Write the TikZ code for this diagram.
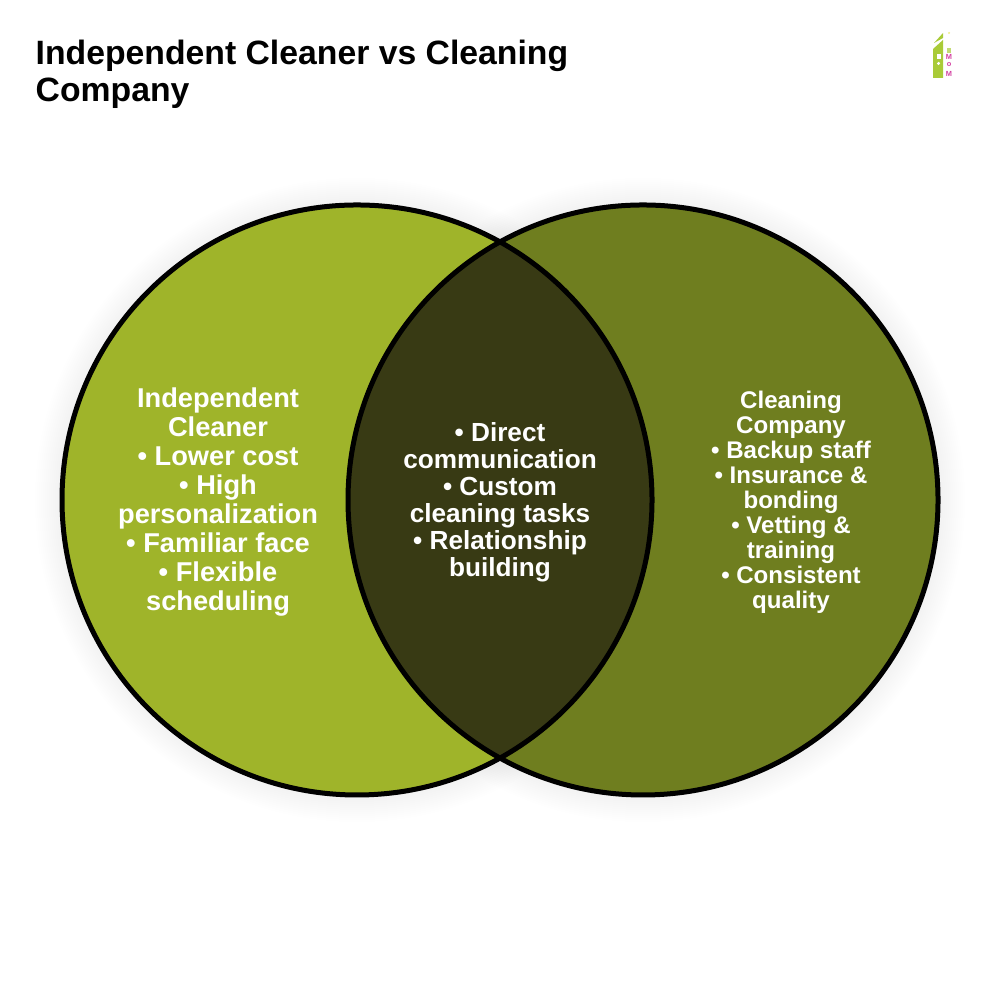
\documentclass[tikz,border=0pt]{standalone}
\usepackage{fontspec}
\setmainfont{Liberation Sans}
\definecolor{cleanerfill}{HTML}{9FB42A}
\definecolor{companyfill}{HTML}{6F7E1F}
\definecolor{overlapfill}{HTML}{383A14}
\definecolor{logogreen}{HTML}{A9CB38}
\definecolor{logopink}{HTML}{D23FA0}
\tikzset{
  titletext/.style={font=\fontsize{9.6}{10.55}\selectfont\bfseries, align=left, anchor=north west, inner sep=0pt},
  bigtext/.style={font=\fontsize{7.75}{8.25}\selectfont\bfseries, align=center, text=white, inner sep=0pt},
  midtext/.style={font=\fontsize{7.45}{7.7}\selectfont\bfseries, align=center, text=white, inner sep=0pt},
  smalltext/.style={font=\fontsize{6.85}{7.12}\selectfont\bfseries, align=center, text=white, inner sep=0pt},
  logotext/.style={font=\fontsize{2.1}{2.4}\selectfont\bfseries, text=logopink, inner sep=0pt},
}
\begin{document}
\begin{tikzpicture}
        \useasboundingbox (0,0) rectangle (10,10);

        %soft shadow
        \foreach \r in {3.22,3.20,...,2.96} {
            \fill[black, opacity=0.0035] (3.57,5) circle (\r);
            \fill[black, opacity=0.0035] (6.43,5) circle (\r);
        }

        %circles
        \fill[cleanerfill] (3.57,5) circle (2.95);
        \fill[companyfill] (6.43,5) circle (2.95);
        \begin{scope}
            \clip (3.57,5) circle (2.95);
            \fill[overlapfill] (6.43,5) circle (2.95);
        \end{scope}
        \draw[black, line width=0.5mm] (3.57,5) circle (2.95);
        \draw[black, line width=0.5mm] (6.43,5) circle (2.95);

        %labels
        \node[titletext] (title) at (0.35,9.605) {Independent Cleaner vs Cleaning\\Company};
        \node[bigtext] (cleaner) at (2.18,4.98) {Independent\\Cleaner\\• Lower cost\\• High\\personalization\\• Familiar face\\• Flexible\\scheduling};
        \node[midtext] (shared) at (5,4.98) {• Direct\\communication\\• Custom\\cleaning tasks\\• Relationship\\building};
        \node[smalltext] (company) at (7.91,4.98) {Cleaning\\Company\\• Backup staff\\• Insurance \&\\bonding\\• Vetting \&\\training\\• Consistent\\quality};

        %logo
        \fill[logogreen] (9.33,9.22) -- (9.33,9.51) -- (9.43,9.6) -- (9.43,9.22) -- cycle;
        \fill[logogreen] (9.34,9.57) -- (9.43,9.67) -- (9.43,9.62) -- cycle;
        \fill[white] (9.37,9.41) rectangle (9.41,9.46);
        \fill[white] (9.385,9.365) circle (0.017);
        \fill[logogreen!70] (9.47,9.47) rectangle (9.51,9.52);
        \fill[yellow!60!logogreen, opacity=0.5] (9.49,9.67) circle (0.012);
        \node[logotext] (logotop) at (9.49,9.43) {M};
        \node[logotext] (logomid) at (9.49,9.35) {o};
        \node[logotext] (logobot) at (9.49,9.26) {M};
\end{tikzpicture}
\end{document}
